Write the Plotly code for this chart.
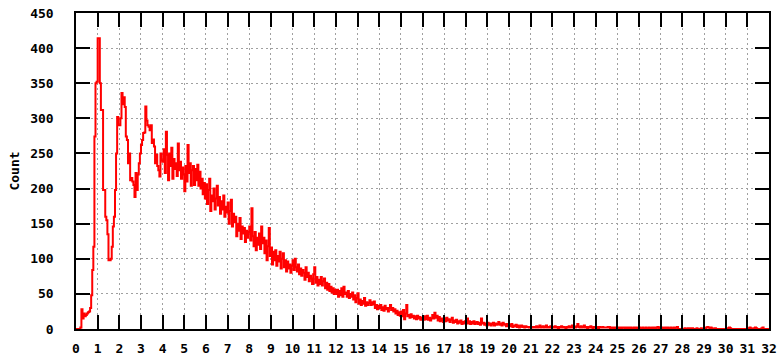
import numpy as np
import plotly.graph_objects as go

# histogram bins, 0.05 wide, starting at 0 (one row per unit of x)
bin_width = 0.05
counts = [
    0, 0, 0, 0, 2, 28, 15, 22, 18, 20, 22, 24, 25, 30, 48, 84, 117, 274, 350, 352,  # 0
    414, 414, 350, 312, 312, 198, 198, 160, 155, 135, 98, 98, 100, 117, 146, 160, 198, 250, 302, 290,  # 1
    290, 300, 336, 320, 330, 316, 274, 269, 236, 250, 212, 215, 210, 205, 188, 222, 198, 220, 236, 250,  # 2
    262, 269, 279, 280, 317, 297, 290, 288, 283, 290, 265, 270, 260, 236, 248, 232, 226, 217, 250, 240,  # 3
    238, 256, 222, 281, 248, 212, 250, 232, 258, 214, 242, 228, 236, 218, 264, 226, 238, 214, 230, 220,  # 4
    196, 232, 210, 262, 222, 236, 204, 226, 232, 205, 228, 212, 234, 204, 224, 200, 214, 192, 208, 186,  # 5
    206, 178, 198, 214, 168, 190, 182, 200, 170, 186, 204, 176, 188, 164, 182, 170, 190, 160, 174, 166,  # 6
    180, 150, 168, 184, 146, 164, 152, 160, 132, 150, 140, 158, 128, 146, 136, 144, 124, 140, 130, 138,  # 7
    146, 126, 172, 132, 118, 138, 112, 130, 120, 136, 114, 146, 122, 130, 108, 126, 98, 118, 144, 104,  # 8
    116, 92, 110, 98, 112, 90, 104, 96, 110, 86, 100, 108, 88, 98, 82, 96, 86, 92, 80, 90,  # 9
    98, 84, 100, 88, 82, 92, 78, 86, 76, 84, 80, 70, 88, 74, 80, 68, 76, 72, 64, 78,  # 10
    88, 66, 74, 62, 70, 64, 74, 62, 68, 72, 58, 66, 56, 64, 54, 60, 52, 58, 50, 56,  # 11
    50, 56, 46, 54, 48, 58, 46, 60, 50, 52, 46, 54, 44, 50, 46, 52, 42, 48, 38, 44,  # 12
    51, 36, 42, 34, 40, 36, 44, 33, 38, 34, 37, 41, 34, 38, 35, 39, 30, 34, 28, 33,  # 13
    30, 34, 27, 31, 26, 33, 28, 30, 25, 30, 34, 27, 30, 25, 28, 22, 26, 20, 24, 19,  # 14
    25, 18, 27, 14, 22, 34, 18, 20, 16, 21, 17, 19, 15, 18, 14, 19, 15, 17, 13, 16,  # 15
    16, 13, 18, 14, 19, 13, 16, 12, 15, 20, 15, 23, 16, 19, 12, 17, 11, 15, 13, 10,  # 16
    15, 11, 16, 12, 14, 10, 13, 16, 9, 12, 10, 13, 8, 11, 9, 12, 7, 10, 8, 11,  # 17
    9, 15, 8, 11, 7, 10, 8, 11, 7, 9, 10, 7, 9, 6, 15, 8, 9, 6, 8, 5,  # 18
    9, 6, 8, 5, 7, 9, 5, 8, 6, 7, 10, 6, 8, 5, 9, 7, 6, 4, 7, 5,  # 19
    6, 4, 7, 3, 5, 4, 6, 3, 5, 2, 4, 5, 3, 4, 2, 4, 3, 3, 2, 3,  # 20
    3, 2, 3, 3, 2, 4, 2, 3, 5, 2, 3, 4, 2, 3, 5, 2, 3, 2, 4, 2,  # 21
    3, 2, 4, 2, 3, 1, 3, 2, 4, 2, 3, 2, 1, 3, 2, 4, 2, 3, 5, 2,  # 22
    3, 2, 4, 7, 3, 2, 4, 2, 3, 5, 2, 3, 1, 3, 2, 4, 2, 1, 3, 2,  # 23
    3, 2, 1, 3, 2, 2, 3, 2, 2, 2, 2, 3, 3, 0, 2, 2, 1, 2, 1, 2,  # 24
    1, 2, 1, 2, 1, 2, 2, 1, 2, 1, 2, 1, 2, 1, 1, 2, 1, 2, 1, 1,  # 25
    2, 1, 1, 2, 1, 1, 2, 1, 1, 2, 1, 1, 2, 1, 2, 1, 2, 3, 1, 2,  # 26
    1, 2, 1, 1, 2, 1, 2, 1, 1, 2, 1, 1, 2, 1, 2, 3, 0, 0, 0, 0,  # 27
    0, 0, 1, 0, 0, 1, 0, 1, 0, 1, 0, 0, 0, 1, 0, 0, 0, 1, 0, 0,  # 28
    0, 1, 2, 3, 2, 1, 2, 1, 0, 0, 1, 0, 0, 0, 0, 0, 0, 0, 0, 0,  # 29
    0, 0, 1, 2, 1, 0, 0, 0, 0, 0, 0, 0, 0, 0, 0, 0, 0, 0, 0, 0,  # 30
    0, 1, 2, 1, 0, 0, 1, 2, 1, 0, 0, 0, 0, 1, 2, 0, 0, 0, 0, 0,  # 31
]
x_range = [0, 32]
y_range = [0, 450]
y_title = 'Count'

# step edges
x = np.arange(len(counts) + 1) * bin_width
y = counts + [counts[-1]]

fig = go.Figure(go.Scatter(x=x, y=y, mode='lines', line=dict(color='#ff0000', width=2, shape='hv'),
                           showlegend=False))

tick_font = dict(family='DejaVu Sans Mono', size=13, color='black', weight='bold')
axis_style = dict(showgrid=True, gridcolor='#a0a0a0', gridwidth=1, griddash='2px,3px',
                  ticks='inside', ticklen=14, tickwidth=1.5, tickcolor='black',
                  showline=True, linecolor='black', linewidth=1.5, mirror='allticks',
                  zeroline=False, tickfont=tick_font, automargin=False,
                  ticklabeloverflow='allow')

fig.update_xaxes(range=x_range, dtick=1, tick0=0, ticklabelstandoff=7, **axis_style)
fig.update_yaxes(range=y_range, dtick=50, tick0=0, ticklabelstandoff=18,
                 title=dict(text=y_title, font=tick_font, standoff=8), **axis_style)

fig.update_layout(width=782, height=358, margin=dict(l=76, r=13, t=13, b=29),
                  plot_bgcolor='white', paper_bgcolor='white')

# drop the default 8px page margin so the figure fills the window
fig.write_html("out.html", config={'displayModeBar': False},
               post_script="document.body.style.margin = '0';")
